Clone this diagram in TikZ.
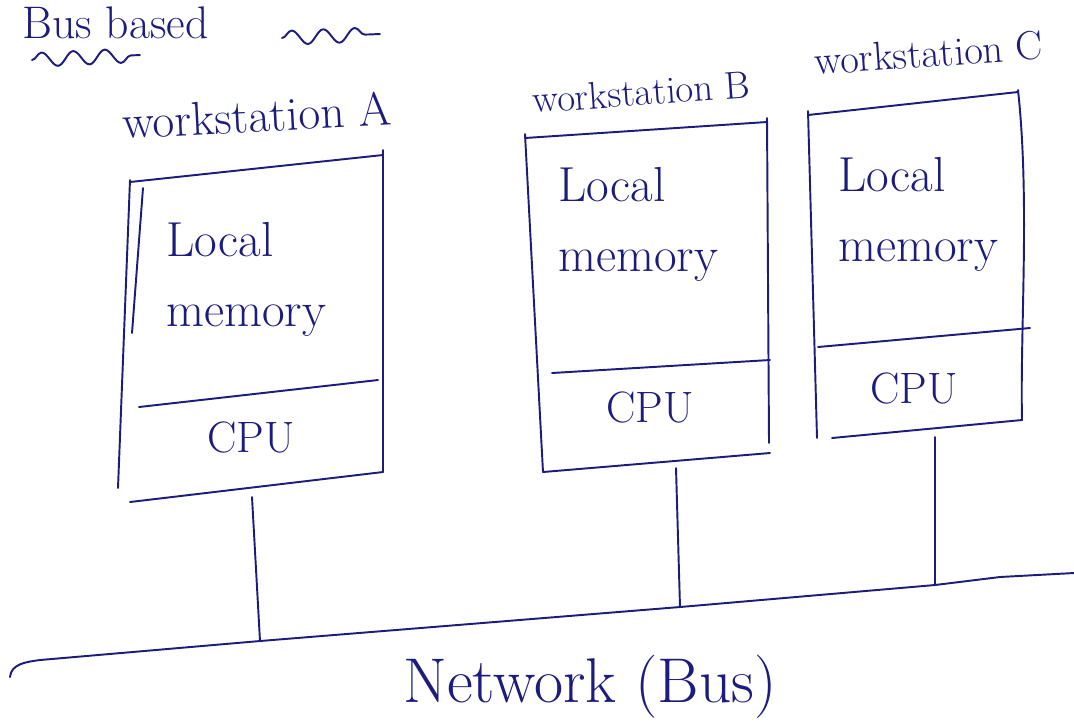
\documentclass[tikz,border=0pt]{standalone}
\usepackage{xcolor}
\usetikzlibrary{decorations.pathmorphing}

\definecolor{ink}{RGB}{28,28,125}

\tikzset{
  pen/.style={line width=1.1pt, draw=ink, line cap=round, line join=round},
  hand/.style={text=ink, inner sep=0pt},
  wiggle/.style={pen, decorate, decoration={snake, amplitude=4pt, segment length=18pt}},
}

\begin{document}
\begin{tikzpicture}[x=0.02cm, y=0.02cm]
\useasboundingbox (0,0) rectangle (1074,-725);

% heading
\node[hand, anchor=base west, font=\fontsize{26}{30}\selectfont] (title) at (22,-38) {Bus based};
\draw[wiggle] (32,-60) -- (140,-55);
\draw[wiggle] (282,-38) -- (380,-34);

% workstation A
\node[hand, anchor=base west, rotate=3, font=\fontsize{27}{30}\selectfont] (labA) at (123,-139) {workstation A};
\draw[pen] (130,-182) -- (383,-155);
\draw[pen] (130,-180) -- (118,-488);
\draw[pen] (143,-188) -- (132,-333);
\draw[pen] (383,-150) -- (383,-472);
\draw[pen] (130,-502) -- (383,-472);
\draw[pen] (139,-407) -- (378,-380);
\node[hand, anchor=north west, align=left, font=\fontsize{28}{40}\selectfont] (memA) at (166,-222) {Local\\memory};
\node[hand, font=\fontsize{25}{30}\selectfont] (cpuA) at (251,-437) {CPU};

% workstation B
\node[hand, anchor=base west, rotate=4, font=\fontsize{22}{26}\selectfont] (labB) at (533,-113) {workstation B};
\draw[pen] (525,-138) -- (767,-122);
\draw[pen] (525,-134) -- (543,-472);
\draw[pen] (767,-118) -- (769,-443);
\draw[pen] (543,-472) -- (770,-453);
\draw[pen] (552,-373) -- (770,-360);
\node[hand, anchor=north west, align=left, font=\fontsize{28}{40}\selectfont] (memB) at (558,-167) {Local\\memory};
\node[hand, font=\fontsize{25}{30}\selectfont] (cpuB) at (650,-407) {CPU};

% workstation C
\node[hand, anchor=base west, rotate=4, font=\fontsize{23}{26}\selectfont] (labC) at (815,-75) {workstation C};
\draw[pen] (808,-115) -- (1018,-92);
\draw[pen] (808,-111) -- (817,-438);
\draw[pen] (1018,-90) .. controls (1030,-200) and (1020,-330) .. (1022,-420);
\draw[pen] (832,-438) -- (1022,-420);
\draw[pen] (818,-347) -- (1030,-328);
\node[hand, anchor=north west, align=left, font=\fontsize{28}{40}\selectfont] (memC) at (838,-157) {Local\\memory};
\node[hand, font=\fontsize{25}{30}\selectfont] (cpuC) at (914,-388) {CPU};

% bus and taps
\coordinate (busL) at (10,-677);
\coordinate (busR) at (1074,-573);
\coordinate (tapA) at (260,-641);
\coordinate (tapB) at (680,-607);
\coordinate (tapC) at (935,-585);
\coordinate (stubA) at (252,-497);
\coordinate (stubB) at (676,-468);
\coordinate (stubC) at (935,-437);

\draw[pen] (busL) to[out=85,in=188] (40,-660) -- (tapA) -- (tapB) -- (tapC) -- (1000,-577) -- (busR);
\draw[pen] (stubA) -- (tapA);
\draw[pen] (stubB) -- (tapB);
\draw[pen] (stubC) -- (tapC);

\node[hand, anchor=base, font=\fontsize{36}{40}\selectfont] (bus) at (590,-702) {Network (Bus)};
\end{tikzpicture}
\end{document}
